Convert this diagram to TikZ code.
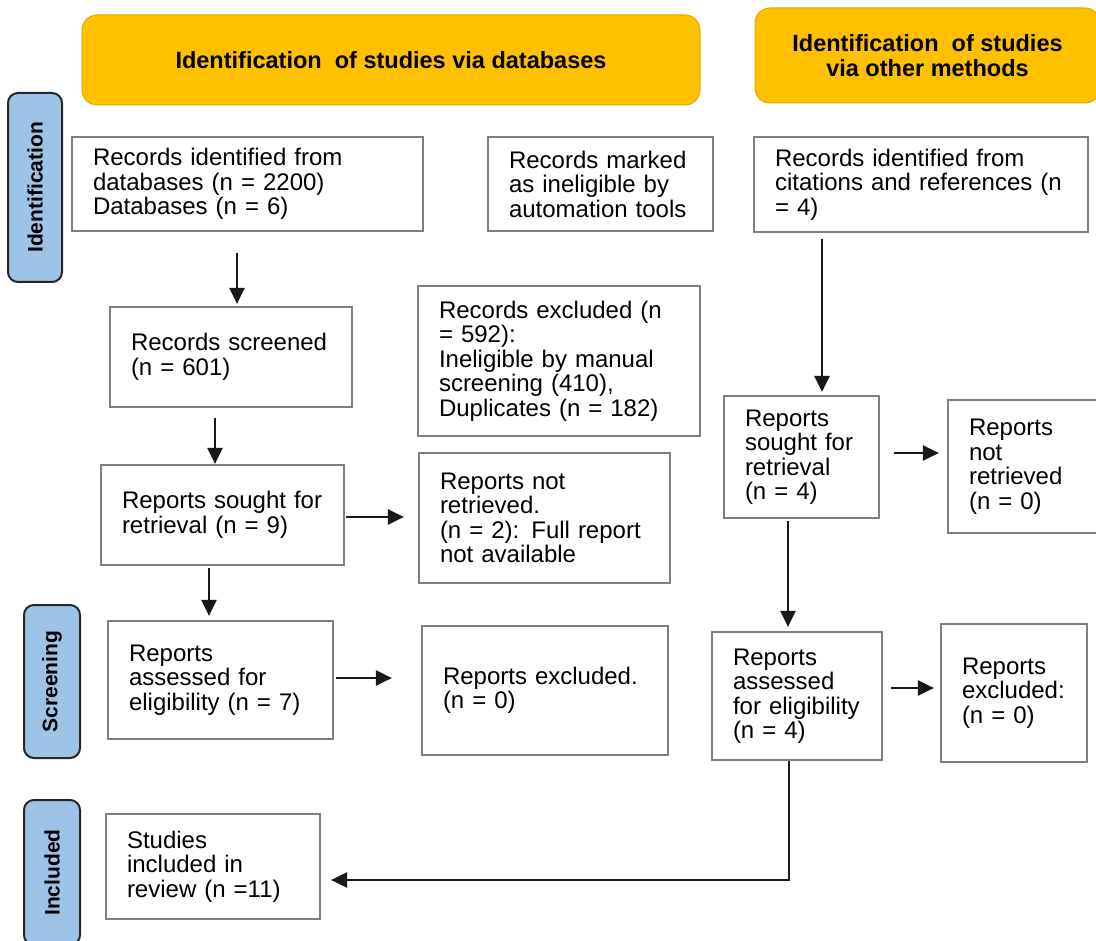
\documentclass[tikz,border=0pt]{standalone}
\usepackage{fontspec}
\setmainfont{Liberation Sans}
\usetikzlibrary{arrows.meta}
\definecolor{headorange}{HTML}{FFC000}
\definecolor{headedge}{HTML}{E3AA00}
\definecolor{stageblue}{HTML}{9DC3E6}
\definecolor{boxgray}{HTML}{7F7F7F}
\newcommand{\boxfont}{\fontsize{24}{24.5}\selectfont}
\newcommand{\headfont}{\fontsize{23.5}{25}\selectfont\bfseries}
\newcommand{\stagefont}{\fontsize{21}{24}\selectfont\bfseries}
\begin{document}
\begin{tikzpicture}[
    x=1pt, y=-1pt,
    record/.style={rectangle, draw=boxgray, line width=2.2pt, fill=white, align=left, inner xsep=21pt, inner ysep=0pt, font=\boxfont},
    header/.style={rectangle, draw=headedge, line width=1pt, fill=headorange, rounded corners=15pt, align=center, font=\headfont},
    stage/.style={rectangle, draw=black!85, line width=2pt, fill=stageblue, rounded corners=10pt, rotate=90, inner sep=0pt, font=\stagefont},
    arrow/.style={-{Triangle[length=16pt, width=15pt]}, line width=2.4pt, black!90}
]
\useasboundingbox (0,0) rectangle (1096,941);

% En-tetes
\node[header, minimum width=618pt, minimum height=90pt] (dbhead) at (391,60) {Identification\ \ of studies via databases};
\node[header, minimum width=345pt, minimum height=95pt] (otherhead) at (927.5,55.5) {Identification\ \ of studies\\via other methods};

% Etapes (colonne gauche)
\node[stage, minimum width=189pt, minimum height=54pt] (ident) at (35,187.5) {Identification};
\node[stage, minimum width=153pt, minimum height=56pt] (screen) at (52,681.5) {Screening};
\node[stage, minimum width=145pt, minimum height=56pt] (incl) at (52,872.5) {Included};

% Bases de donnees
\node[record, text width=309pt, minimum height=94pt] (dbrec) at (247.5,184) {Records identified from\\databases (n = 2200)\\Databases (n = 6)};
\node[record, text width=183pt, minimum height=94pt] (autorec) at (600.5,184) {Records marked\\as ineligible by\\automation tools};
\node[record, text width=200pt, minimum height=100pt] (screened) at (231,357) {Records screened\\(n = 601)};
\node[record, text width=240pt, minimum height=150pt] (excl) at (559,361) {Records excluded (n\\= 592):\\Ineligible by manual\\screening (410),\\Duplicates (n = 182)};
\node[record, text width=201pt, minimum height=100pt] (sought) at (222.5,515) {Reports sought for\\retrieval (n = 9)};
\node[record, text width=209pt, minimum height=130pt] (notret) at (544.5,518) {Reports not\\retrieved.\\(n = 2): Full report\\not available};
\node[record, text width=183pt, minimum height=118pt] (assessed) at (220.5,680) {Reports\\assessed for\\eligibility (n = 7)};
\node[record, text width=204pt, minimum height=129pt] (repexcl) at (545,690.5) {Reports excluded.\\(n = 0)};
\node[record, text width=172pt, minimum height=105pt] (included) at (213,866.5) {Studies\\included in\\review (n =11)};

% Autres methodes
\node[record, text width=292pt, minimum height=95pt] (citrec) at (921,184.5) {Records identified from\\citations and references (n\\= 4)};
\node[record, text width=113pt, minimum height=122pt] (osought) at (801.5,457) {Reports\\sought for\\retrieval\\(n = 4)};
\node[record, text width=110pt, minimum height=133pt] (onotret) at (1024,466.5) {Reports\\not\\retrieved\\(n = 0)};
\node[record, text width=128pt, minimum height=128pt] (oassessed) at (797,696) {Reports\\assessed\\for eligibility\\(n = 4)};
\node[record, text width=104pt, minimum height=138pt] (oexcl) at (1014,693) {Reports\\excluded:\\(n = 0)};

% Fleches
\draw[arrow, shorten <=21pt, shorten >=2pt] ([xshift=-10.5pt]dbrec.south) -- ([xshift=6pt]screened.north);
\draw[arrow, shorten <=10pt] ([xshift=-16pt]screened.south) -- ([xshift=-7.5pt]sought.north);
\draw[arrow, shorten <=1pt, shorten >=14pt] ([yshift=-2pt]sought.east) -- ([yshift=1pt]notret.west);
\draw[arrow, shorten <=2pt, shorten >=4pt] ([xshift=-13.5pt]sought.south) -- ([xshift=-11.5pt]assessed.north);
\draw[arrow, shorten <=2pt, shorten >=29pt] ([yshift=2pt]assessed.east) -- ([yshift=12.5pt]repexcl.west);
\draw[arrow, shorten <=6pt, shorten >=3pt] ([xshift=-99pt]citrec.south) -- ([xshift=20.5pt]osought.north);
\draw[arrow, shorten <=14pt, shorten >=8pt] ([yshift=4pt]osought.east) -- ([yshift=13.5pt]onotret.west);
\draw[arrow, shorten <=2pt, shorten >=4pt] ([xshift=-13.5pt]osought.south) -- ([xshift=-9pt]oassessed.north);
\draw[arrow, shorten <=8pt, shorten >=6pt] ([yshift=8pt]oassessed.east) -- ([yshift=5pt]oexcl.west);
\draw[arrow, shorten >=10pt] ([xshift=-8pt]oassessed.south) |- ([yshift=-13.5pt]included.east);

\end{tikzpicture}
\end{document}
